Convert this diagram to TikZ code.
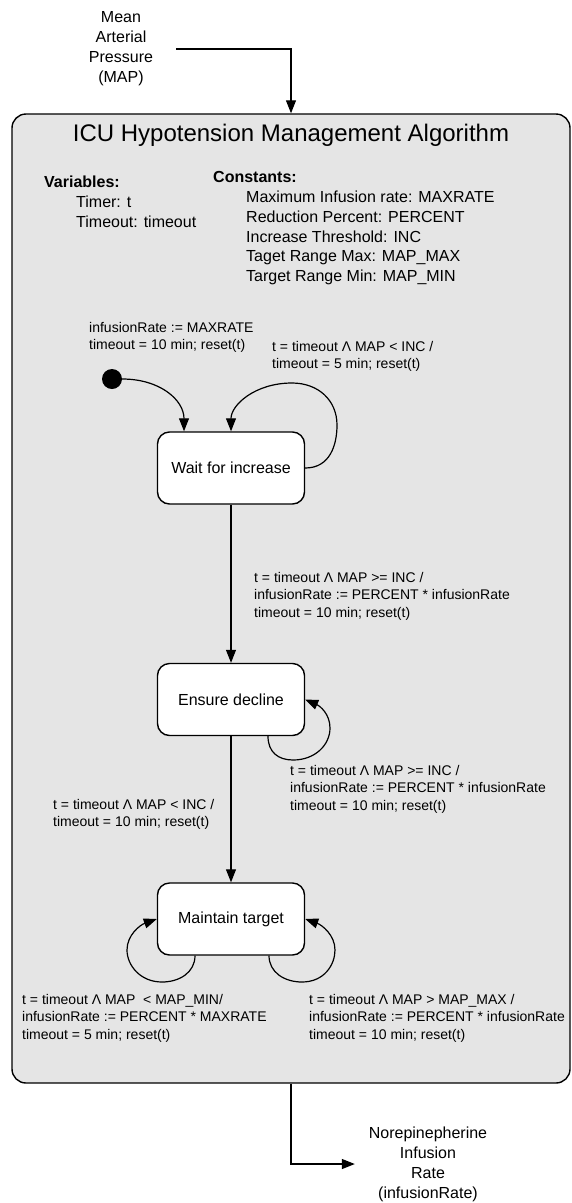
\documentclass[tikz,border=0pt]{standalone}
\usepackage{fontspec}
\setmainfont{Liberation Sans}
\usetikzlibrary{arrows.meta}
\definecolor{panel}{RGB}{229,229,229}
\begin{document}
\begin{tikzpicture}[x=1pt,y=-1pt,
  conn/.style={line width=1.2pt, -{Triangle[length=13pt,width=10pt]}},
  stbox/.style={draw, line width=1.4pt, fill=white, rounded corners=12pt,
    minimum width=147pt, minimum height=72pt, inner sep=0pt,
    font=\fontsize{16}{19}\selectfont},
  lbl/.style={anchor=north west, align=left, inner sep=0pt,
    font=\fontsize{14}{17.5}\selectfont},
  info/.style={anchor=north west, align=left, inner sep=0pt,
    font=\fontsize{16}{19.7}\selectfont},
  infohead/.style={anchor=north west, inner sep=0pt,
    font=\fontsize{16}{19.7}\selectfont\bfseries},
  io/.style={align=center, inner sep=0pt, font=\fontsize{16}{20}\selectfont}]
\useasboundingbox (0,0) rectangle (571,1203);

% outer panel of the algorithm
\node[draw, line width=1.4pt, fill=panel, rounded corners=14pt,
  minimum width=558pt, minimum height=969pt, inner sep=0pt] (alg) at (291,598.5) {};
\node[anchor=base, inner sep=0pt, font=\fontsize{24}{28}\selectfont] (title)
  at (291,141) {ICU Hypotension Management Algorithm};

% declarations
\node[infohead] (varhead) at (44,176) {Variables:};
\node[info] (varlist) at (76,196) {Timer: t\\Timeout: timeout};
\node[infohead] (conhead) at (213,171) {Constants:};
\node[info] (conlist) at (246,191) {Maximum Infusion rate: MAXRATE\\
  Reduction Percent: PERCENT\\Increase Threshold: INC\\
  Taget Range Max: MAP\_MAX\\Target Range Min: MAP\_MIN};

% input and output
\node[io, minimum width=110pt] (mapsrc) at (121,49) {Mean\\Arterial\\Pressure\\(MAP)};
\node[io, minimum width=146pt] (rateout) at (428,1164) {Norepinepherine\\Infusion\\Rate\\(infusionRate)};

% states
\node[circle, fill=black, minimum size=20pt, inner sep=0pt] (dot) at (112,379) {};
\node[stbox] (wait) at (231,468) {Wait for increase};
\node[stbox] (ensure) at (231,699.5) {Ensure decline};
\node[stbox] (maint) at (231,919) {Maintain target};

% transition labels
\node[lbl] (initlbl) at (89,322) {infusionRate := MAXRATE\\timeout = 10 min; reset(t)};
\node[lbl] (waitlbl) at (272,341) {t = timeout Λ MAP < INC /\\timeout = 5 min; reset(t)};
\node[lbl] (declbl) at (254,572) {t = timeout Λ MAP >= INC /\\
  infusionRate := PERCENT * infusionRate\\timeout = 10 min; reset(t)};
\node[lbl] (enslbl) at (290,765) {t = timeout Λ MAP >= INC /\\
  infusionRate := PERCENT * infusionRate\\timeout = 10 min; reset(t)};
\node[lbl] (tgtlbl) at (53,799) {t = timeout Λ MAP < INC /\\timeout = 10 min; reset(t)};
\node[lbl] (minlbl) at (22,994) {t = timeout Λ MAP \ < MAP\_MIN/\\
  infusionRate := PERCENT * MAXRATE\\timeout = 5 min; reset(t)};
\node[lbl] (maxlbl) at (309,994) {t = timeout Λ MAP > MAP\_MAX /\\
  infusionRate := PERCENT * infusionRate\\timeout = 10 min; reset(t)};

% connectors
\draw[conn] (mapsrc.east) -| (alg.north);
\draw[conn] (alg.south) |- (rateout.west);
\draw[conn] (dot.east) .. controls (160,379) and (184,400) .. ([xshift=-47pt]wait.north);
\draw[conn] (wait.east) .. controls (330,468) and (337,445) .. (337,425)
  .. controls (337,400) and (318,383) .. (292,383)
  .. controls (255,383) and (231,405) .. (wait.north);
\draw[conn] (wait) -- (ensure);
\draw[conn] ([xshift=37pt]ensure.south) .. controls (268,752) and (278,760) .. (293,760)
  .. controls (315,760) and (330,745) .. (330,728)
  .. controls (330,714) and (320,706) .. (ensure.east);
\draw[conn] (ensure) -- (maint);
\draw[conn] ([xshift=-36pt]maint.south) .. controls (195,972) and (180,982) .. (162,982)
  .. controls (140,982) and (127,965) .. (127,950)
  .. controls (127,935) and (140,925) .. (maint.west);
\draw[conn] ([xshift=38pt]maint.south) .. controls (269,972) and (284,982) .. (302,982)
  .. controls (324,982) and (335,965) .. (335,950)
  .. controls (335,935) and (322,925) .. (maint.east);
\end{tikzpicture}
\end{document}
